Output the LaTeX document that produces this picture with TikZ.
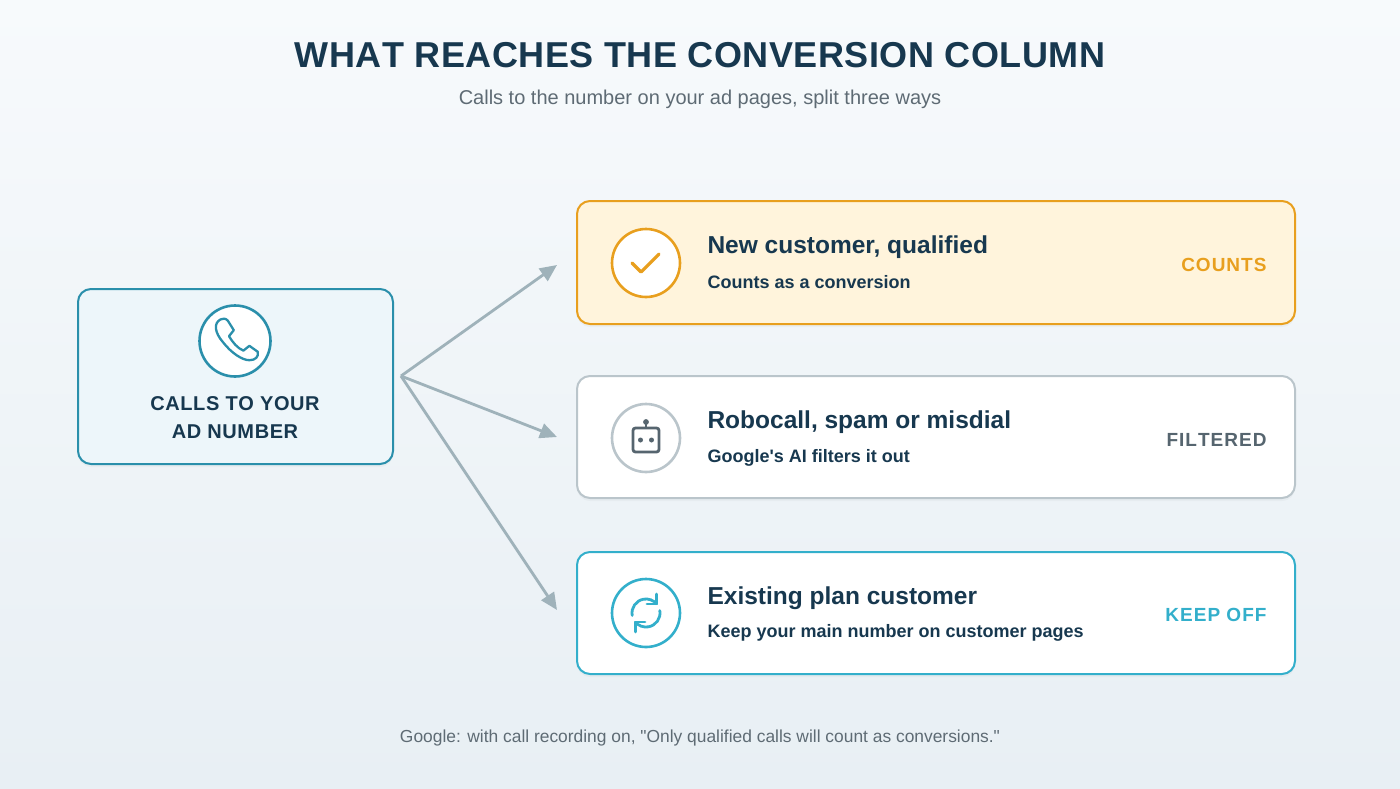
\documentclass[tikz,border=0pt]{standalone}
\usepackage{fontspec}
\setmainfont{Liberation Sans}[Ligatures=TeXOff]
\usetikzlibrary{arrows.meta,shadows}
\definecolor{navy}{HTML}{17384F}
\definecolor{subg}{HTML}{5E6B74}
\definecolor{teal}{HTML}{2A8FAB}
\definecolor{orng}{HTML}{E89F1E}
\definecolor{orfill}{HTML}{FFF4DC}
\definecolor{gbord}{HTML}{BAC5CB}
\definecolor{robo}{HTML}{56656F}
\definecolor{cyan2}{HTML}{33AFCB}
\definecolor{arr}{HTML}{9FB2BA}
\definecolor{bgtop}{HTML}{F7FAFC}
\definecolor{bgbot}{HTML}{E8EFF4}
\definecolor{lbot}{HTML}{E3F1F7}
\begin{document}
\begin{tikzpicture}[x=1pt,y=-1pt,
  card/.style={rounded corners=13pt,line width=2pt,drop shadow={shadow xshift=0pt,shadow yshift=-3pt,opacity=0.06}},
  ttl/.style={anchor=west,font=\bfseries\fontsize{24.5}{28}\selectfont,text=navy},
  sub/.style={anchor=west,font=\bfseries\fontsize{18}{21}\selectfont,text=navy},
  tag/.style={anchor=east,font=\bfseries\fontsize{19}{22}\selectfont},
  ic/.style={circle,minimum size=68pt,line width=2.6pt,fill=white,inner sep=0},
  ar/.style={draw=arr,line width=2.8pt,-{Triangle[length=17pt,width=15pt]}}]
\shade[top color=bgtop,bottom color=bgbot] (0,0) rectangle (1400,788);
\useasboundingbox (0,0) rectangle (1400,788);
\node[font=\bfseries\fontsize{36}{40}\selectfont,text=navy] (title) at (700,55) {W\kern.5pt H\kern.5pt A\kern.5pt T\kern.5pt{} R\kern.5pt E\kern.5pt A\kern.5pt C\kern.5pt H\kern.5pt E\kern.5pt S\kern.5pt{} T\kern.5pt H\kern.5pt E\kern.5pt{} C\kern.5pt O\kern.5pt N\kern.5pt V\kern.5pt E\kern.5pt R\kern.5pt S\kern.5pt I\kern.5pt O\kern.5pt N\kern.5pt{} C\kern.5pt O\kern.5pt L\kern.5pt U\kern.5pt M\kern.5pt N};
\node[font=\fontsize{20}{23}\selectfont,text=subg] (subtitle) at (700,99) {Calls to the number on your ad pages, split three ways};
% left card
\draw[teal,fill=white!35!lbot,card] (78,289) rectangle (393,464);
\node[ic,draw=teal,minimum size=71pt] (phone) at (235,341) {};
\begin{scope}[shift={(235,341)},scale=1.2,shift={(-235,-341)}]
\draw[teal,line width=2.3pt,line join=round] (223,323) .. controls (217,326) and (218,334) .. (225,342) .. controls (232,351) and (241,357) .. (247,357) .. controls (252,357) and (255,354) .. (254,350) -- (247,345) -- (242,349) .. controls (237,347) and (233,342) .. (230,337) -- (234,332) -- (229,324) .. controls (227,322) and (225,322) .. (223,323) -- cycle;
\end{scope}
\node[align=center,font=\bfseries\fontsize{20}{28}\selectfont,text=navy] (src) at (235,418) {C\kern.6pt A\kern.6pt L\kern.6pt L\kern.6pt S\kern.6pt{} T\kern.6pt O\kern.6pt{} Y\kern.6pt O\kern.6pt U\kern.6pt R\\A\kern.6pt D\kern.6pt{} N\kern.6pt U\kern.6pt M\kern.6pt B\kern.6pt E\kern.6pt R};
\coordinate (fork) at (401,376);
% cards
\draw[orng,fill=orfill,card] (577,201) rectangle (1295,324);
\draw[gbord,fill=white,card] (577,376) rectangle (1295,498);
\draw[cyan2,fill=white,card] (577,552) rectangle (1295,674);
\coordinate (t1) at (557,265);\coordinate (t2) at (557,437);\coordinate (t3) at (557,610);
\draw[ar] (fork) -- (t1);\draw[ar] (fork) -- (t2);\draw[ar] (fork) -- (t3);
% icons
\node[ic,draw=orng] (i1) at (646,263) {};
\draw[orng,line width=3.2pt,line cap=round,line join=round] (632,263) -- (641,272) -- (659,254);
\node[ic,draw=gbord] (i2) at (646,438) {};
\draw[robo,line width=2.8pt,rounded corners=2.5pt] (633,428) rectangle (659,452);
\draw[robo,line width=2.8pt] (646,428) -- (646,423);
\fill[robo] (646,422) circle (2.9pt) (640.5,440) circle (2.5pt) (651.5,440) circle (2.5pt);
\node[ic,draw=cyan2] (i3) at (646,613) {};
\draw[cyan2,line width=2.8pt,line cap=round] (632.2,615.4) arc (-190:-40:14);
\draw[cyan2,line width=2.8pt,line cap=round] (659.8,610.6) arc (-10:140:14);
\draw[cyan2,line width=2.8pt,line cap=round,line join=round] (656.7,594) -- (656.7,604) -- (647,604);
\draw[cyan2,line width=2.8pt,line cap=round,line join=round] (635.3,632) -- (635.3,622) -- (645,622);
% texts
\node[ttl] (a1) at (704,247) {New customer, qualified};
\node[sub] (b1) at (704,282) {Counts as a conversion};
\node[tag,text=orng] (c1) at (1270,265) {C\kern1pt O\kern1pt U\kern1pt N\kern1pt T\kern1pt S};
\node[ttl] (a2) at (704,422) {Robocall, spam or misdial};
\node[sub] (b2) at (704,458) {Google's AI filters it out};
\node[tag,text=robo] (c2) at (1270,440) {F\kern1pt I\kern1pt L\kern1pt T\kern1pt E\kern1pt R\kern1pt E\kern1pt D};
\node[ttl] (a3) at (704,598) {Existing plan customer};
\node[sub] (b3) at (704,633) {Keep your main number on customer pages};
\node[tag,text=cyan2] (c3) at (1270,615) {K\kern1pt E\kern1pt E\kern1pt P\kern1pt{} O\kern1pt F\kern1pt F};
\node[font=\fontsize{17.4}{20}\selectfont,text=subg] (foot) at (700,738) {Google: with call recording on, "Only qualified calls will count as conversions."};
\end{tikzpicture}
\end{document}
